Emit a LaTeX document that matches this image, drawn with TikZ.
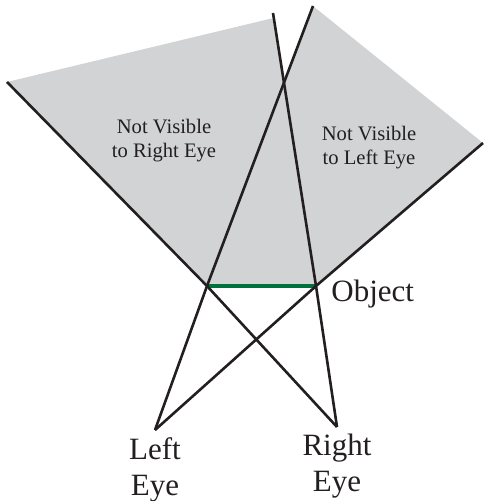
\documentclass[tikz,border=0pt]{standalone}
\usepackage{fontspec}
\setmainfont{Liberation Serif}
\usetikzlibrary{positioning}
\definecolor{shadegray}{HTML}{D1D3D4}
\definecolor{objgreen}{HTML}{00703C}
\definecolor{ink}{HTML}{231F20}

\begin{document}
\begin{tikzpicture}[x=0.5pt, y=-0.5pt,
    sight/.style={draw=ink, line width=1.3pt},
    eyelabel/.style={inner sep=0, align=center, text=ink, font=\fontsize{15.5}{18}\selectfont},
    zonelabel/.style={inner sep=0, align=center, text=ink, font=\fontsize{10.3}{12}\selectfont}]
  \useasboundingbox (0,0) rectangle (484,501);
  % eyes and the two edges of the object
  \coordinate (le) at (155,430);
  \coordinate (re) at (337,427);
  \coordinate (ol) at (207,286);
  \coordinate (or) at (316,286);
  % far ends of the sight lines
  \coordinate (lt) at (313,6);
  \coordinate (lr) at (483,143);
  \coordinate (rl) at (7,82);
  \coordinate (rt) at (273,13);
  \coordinate (rg) at (273.5,18);
  \coordinate (cross) at (intersection of ol--lt and or--rt);
  % hidden zones
  \fill[shadegray] (rl) -- (rg) -- (cross) -- (lt) -- (lr) -- (or) -- (ol) -- cycle;
  \draw[objgreen, line width=1.8pt] (ol) -- (or);
  \draw[sight] (le) -- (ol) -- (lt);
  \draw[sight] (le) -- (or) -- (lr);
  \draw[sight] (re) -- (ol) -- (rl);
  \draw[sight] (re) -- (or) -- (rt);
  \node[zonelabel] (rzone) at (164,141) {Not Visible\\to Right Eye};
  \node[zonelabel] (lzone) at (369,148) {Not Visible\\to Left Eye};
  \node[eyelabel, anchor=base west] (objlbl) at ([xshift=7.5pt, yshift=-7.5pt]or) {Object};
  \node[eyelabel, below=3.5pt of le] (leftlbl) {Left\\Eye};
  \node[eyelabel, below=3.5pt of re] (rightlbl) {Right\\Eye};
\end{tikzpicture}
\end{document}
